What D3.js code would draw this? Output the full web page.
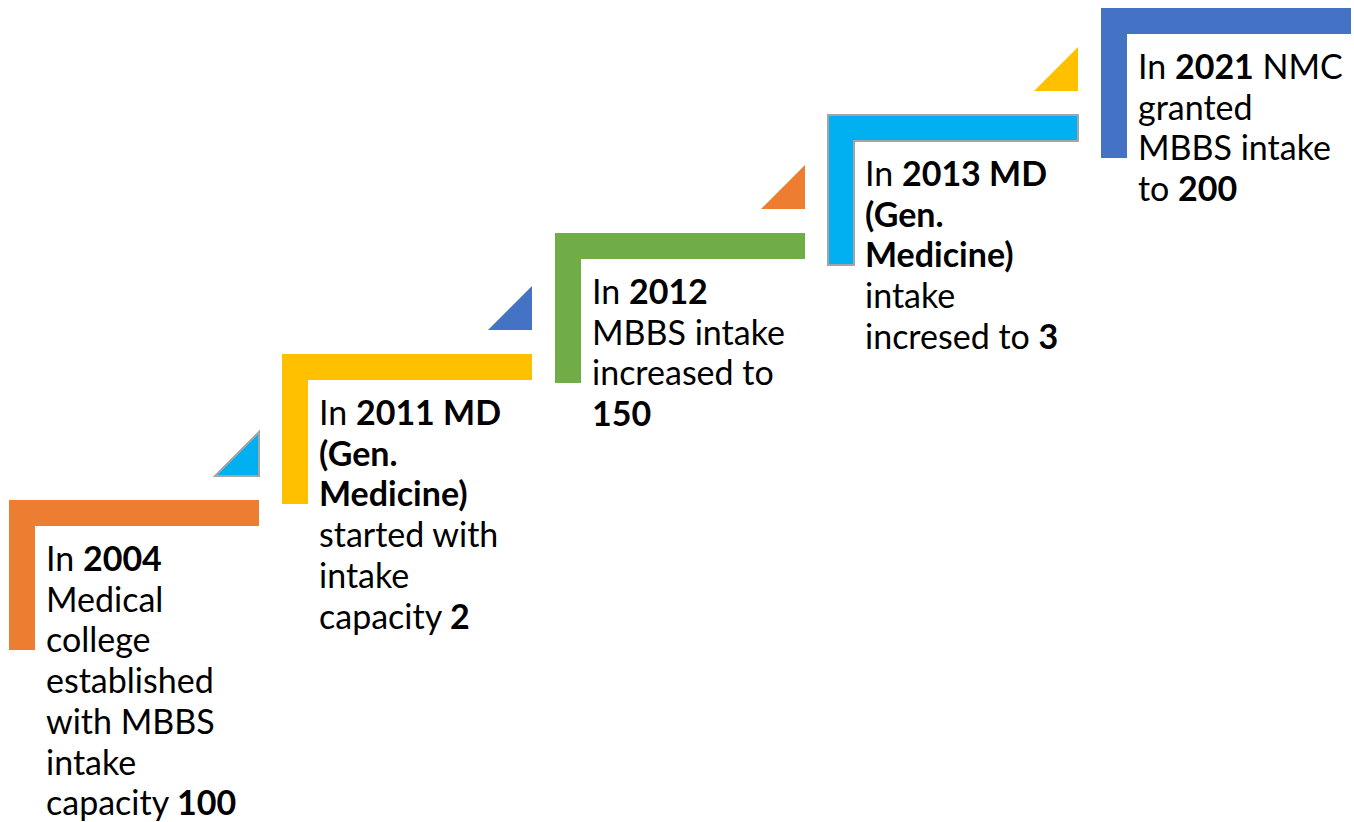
<!DOCTYPE html>
<html>
<head>
<meta charset="utf-8">
<script src="https://cdn.jsdelivr.net/npm/d3@7"></script>
<style>
  body { margin: 0; background: #fff; }
  svg { display: block; }
  text { font-family: Lato, "Open Sans", sans-serif; fill: #000; }
</style>
</head>
<body>
<svg id="chart" width="1354" height="822"></svg>
<script>
// Milestones, one per step (bold parts between **)
const years = ["2004", "2011", "2012", "2013", "2021"];
const stepColors = ["#ED7D31", "#FFC000", "#70AD47", "#00B0F0", "#4472C4"];
const arrowColors = ["#00B0F0", "#4472C4", "#ED7D31", "#FFC000"];
const stepLines = [
  ["In **2004**", "Medical", "college", "established", "with MBBS", "intake", "capacity **100**"],
  ["In **2011 MD**", "**(Gen.**", "**Medicine)**", "started with", "intake", "capacity **2**"],
  ["In **2012**", "MBBS intake", "increased to", "**150**"],
  ["In **2013 MD**", "**(Gen.**", "**Medicine)**", "intake", "incresed to **3**"],
  ["In **2021** NMC", "granted", "MBBS intake", "to **200**"]
];

// layout
const stepTop = [500, 354, 233, 115, 8];
const stepW = 250, stepH = 150, thick = 26;
const triSize = 44, triGap = 24;
const lineH = 40.7, fontSize = 34;

const svg = d3.select("#chart");

const x = d3.scaleLinear().domain([0, years.length - 1]).range([9, 1101]);

const steps = svg.selectAll("g.step")
  .data(years.map((y, i) => ({ year: y, i: i, color: stepColors[i], lines: stepLines[i] })))
  .join("g")
  .attr("class", "step")
  .attr("transform", d => `translate(${x(d.i)},${stepTop[d.i]})`);

// L-shaped step
steps.append("path")
  .attr("d", `M0,0H${stepW}V${thick}H${thick}V${stepH}H0Z`)
  .attr("fill", d => d.color)
  .attr("stroke", d => d.color === "#00B0F0" ? "#A5A5A5" : "none")
  .attr("stroke-width", 2);

// small triangle above the right end of each step
steps.filter(d => d.i < arrowColors.length)
  .append("path")
  .attr("d", `M${stepW - triSize},${-triGap}H${stepW}V${-triGap - triSize}Z`)
  .attr("fill", d => arrowColors[d.i])
  .attr("stroke", d => arrowColors[d.i] === "#00B0F0" ? "#A5A5A5" : "none")
  .attr("stroke-width", 2);

// text block
steps.each(function(d) {
  const g = d3.select(this);
  d.lines.forEach((line, li) => {
    const t = g.append("text")
      .attr("x", thick + 11)
      .attr("y", 71 + li * lineH)
      .attr("font-size", fontSize);
    line.split("**").forEach((part, pi) => {
      if (!part) return;
      t.append("tspan")
        .attr("font-weight", pi % 2 === 1 ? "bold" : "normal")
        .text(part);
    });
  });
});
</script>
</body>
</html>
